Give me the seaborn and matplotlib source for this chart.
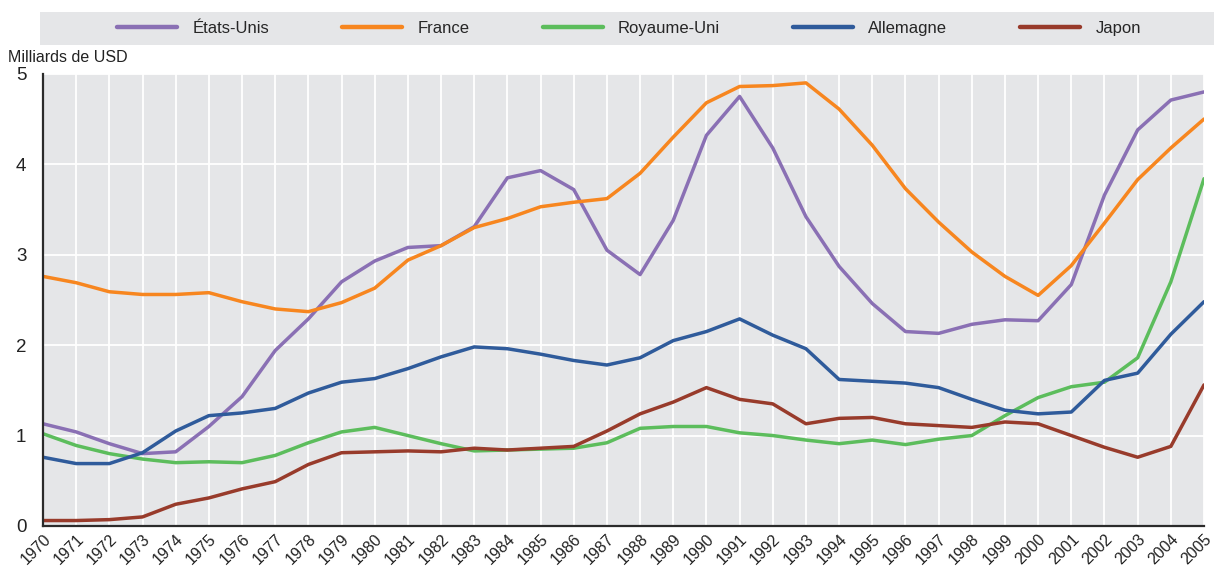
import numpy as np
import pandas as pd
import seaborn as sns
import matplotlib.pyplot as plt
from matplotlib.patches import Rectangle

years = list(range(1970, 2006))

etats_unis = [1.13, 1.04, 0.91, 0.80, 0.82, 1.10, 1.43, 1.94, 2.29, 2.70,
              2.93, 3.08, 3.10, 3.31, 3.85, 3.93, 3.72, 3.05, 2.78, 3.38,
              4.32, 4.75, 4.18, 3.42, 2.87, 2.46, 2.15, 2.13, 2.23, 2.28,
              2.27, 2.67, 3.66, 4.38, 4.71, 4.80]
france = [2.76, 2.69, 2.59, 2.56, 2.56, 2.58, 2.48, 2.40, 2.37, 2.47,
          2.63, 2.94, 3.10, 3.30, 3.40, 3.53, 3.58, 3.62, 3.90, 4.30,
          4.68, 4.86, 4.87, 4.90, 4.61, 4.21, 3.73, 3.36, 3.03, 2.76,
          2.55, 2.88, 3.35, 3.83, 4.18, 4.50]
royaume_uni = [1.02, 0.89, 0.80, 0.74, 0.70, 0.71, 0.70, 0.78, 0.92, 1.04,
               1.09, 1.00, 0.91, 0.83, 0.84, 0.85, 0.86, 0.92, 1.08, 1.10,
               1.10, 1.03, 1.00, 0.95, 0.91, 0.95, 0.90, 0.96, 1.00, 1.22,
               1.42, 1.54, 1.59, 1.86, 2.70, 3.84]
allemagne = [0.76, 0.69, 0.69, 0.81, 1.05, 1.22, 1.25, 1.30, 1.47, 1.59,
             1.63, 1.74, 1.87, 1.98, 1.96, 1.90, 1.83, 1.78, 1.86, 2.05,
             2.15, 2.29, 2.11, 1.96, 1.62, 1.60, 1.58, 1.53, 1.40, 1.28,
             1.24, 1.26, 1.61, 1.69, 2.12, 2.48]
japon = [0.06, 0.06, 0.07, 0.10, 0.24, 0.31, 0.41, 0.49, 0.68, 0.81,
         0.82, 0.83, 0.82, 0.86, 0.84, 0.86, 0.88, 1.05, 1.24, 1.37,
         1.53, 1.40, 1.35, 1.13, 1.19, 1.20, 1.13, 1.11, 1.09, 1.15,
         1.13, 1.00, 0.87, 0.76, 0.88, 1.56]

countries = ['États-Unis', 'France', 'Royaume-Uni', 'Allemagne', 'Japon']
colors = ['#8a70b4', '#f7861f', '#5cbd5c', '#2f5b9b', '#983b2b']

df = pd.DataFrame({'Année': years, 'États-Unis': etats_unis, 'France': france,
                   'Royaume-Uni': royaume_uni, 'Allemagne': allemagne,
                   'Japon': japon})
df = df.melt(id_vars='Année', var_name='Pays', value_name='Valeur')

sns.set_theme(style='whitegrid', rc={'axes.facecolor': '#e5e6e8',
                                     'grid.color': 'white',
                                     'grid.linewidth': 1.3})
plt.rcParams['font.family'] = ['Liberation Sans Narrow', 'Liberation Sans', 'DejaVu Sans']

fig = plt.figure(figsize=(12.14, 5.68), dpi=100)
ax = fig.add_axes([43 / 1214, 0.074, (1204 - 43) / 1214, 0.796])

sns.lineplot(data=df, x='Année', y='Valeur', hue='Pays', hue_order=countries,
             palette=dict(zip(countries, colors)), linewidth=2.5, ax=ax,
             legend=False)

ax.set_xlim(1970, 2005)
ax.set_ylim(0, 5)
ax.set_xticks(years)
ax.set_xticklabels([str(y) for y in years], rotation=45, ha='right',
                   rotation_mode='anchor', fontsize=11.5, color='#222222')
ax.set_yticks([0, 1, 2, 3, 4, 5])
ax.set_yticklabels(['0', '1', '2', '3', '4', '5'], fontsize=13.5, color='#222222')
ax.tick_params(axis='both', direction='in', length=5, width=1, color='#555555')
ax.tick_params(axis='x', pad=4)
ax.tick_params(axis='y', pad=12)
ax.set_xlabel('')
ax.set_ylabel('')
for s in ['top', 'right']:
    ax.spines[s].set_visible(False)
for s in ['left', 'bottom']:
    ax.spines[s].set_visible(True)
    ax.spines[s].set_color('#2b2b2b')
    ax.spines[s].set_linewidth(1.6)
ax.grid(True, axis='both')

fig.text(0.007, 0.885, 'Milliards de USD', fontsize=11.5, color='#222222',
         ha='left', va='bottom')

# grey legend band
fig.patches.append(Rectangle((40 / 1214, 1 - 45 / 568), 1 - 40 / 1214, 33 / 568,
                             transform=fig.transFigure, facecolor='#e5e6e8',
                             edgecolor='none', zorder=0))
handles = [plt.Line2D([], [], color=c, lw=3.2) for c in colors]
leg = fig.legend(handles, countries, ncol=5, loc='center',
                 bbox_to_anchor=(629 / 1214, 1 - 28.5 / 568),
                 frameon=False, fontsize=12, handlelength=3.6,
                 handletextpad=0.9, columnspacing=4.4)

fig.savefig('out.png', dpi=100)
